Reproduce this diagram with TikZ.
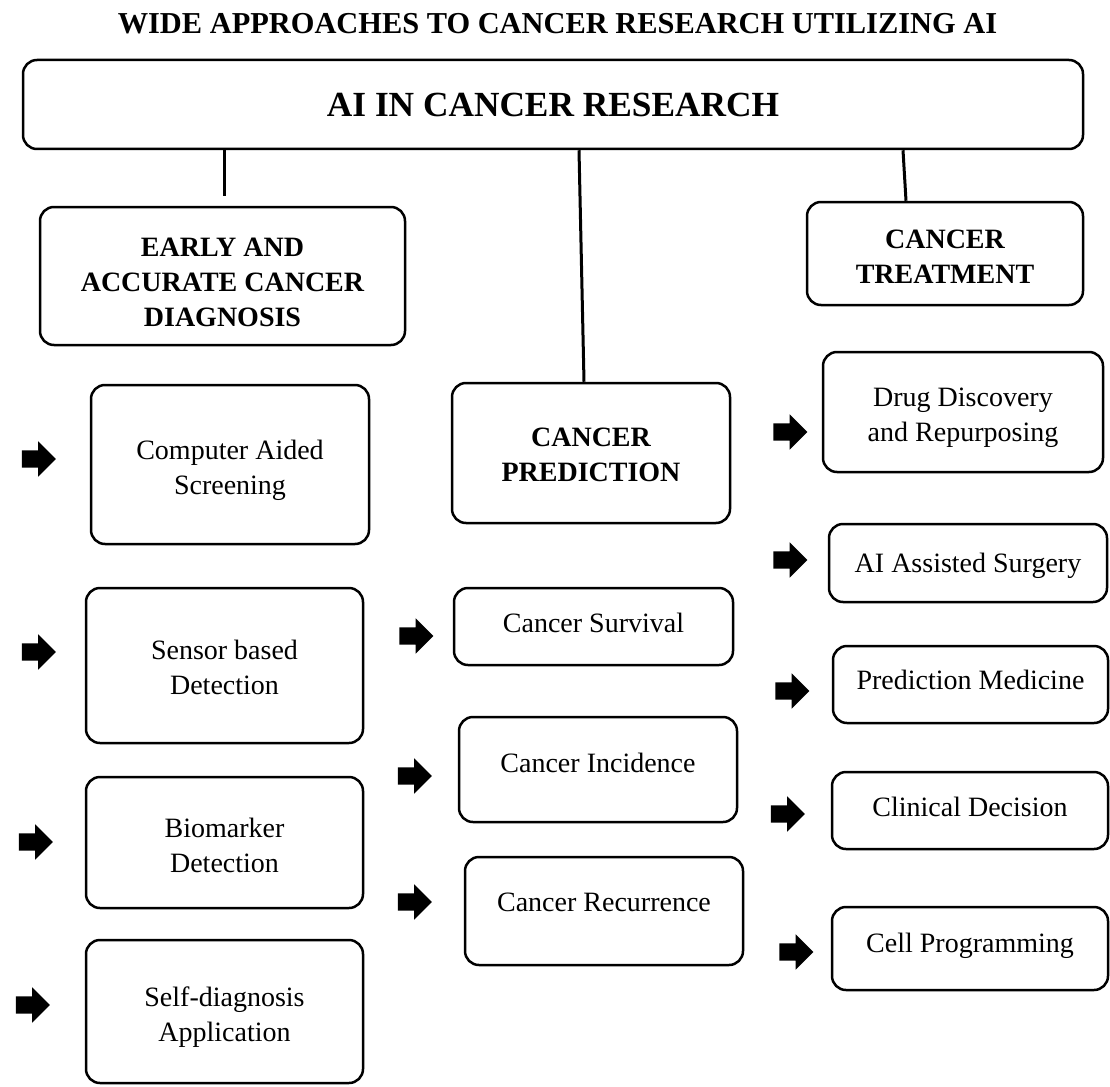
\documentclass[tikz,border=0pt]{standalone}
\usepackage{fontspec}
\setmainfont{Liberation Serif}
\usetikzlibrary{shapes.arrows}
\newcommand\padtop[1]{\rule{0pt}{#1pt}}
\begin{document}
\begin{tikzpicture}[x=1pt,y=-1pt,
box/.style={draw,line width=2.5pt,rounded corners=14pt,align=center,inner sep=0pt},
head/.style={box,font=\bfseries\fontsize{28}{35}\selectfont},
leaf/.style={box,font=\fontsize{28}{35}\selectfont},
sink/.style={text depth=#1pt},
link/.style={line width=3pt},
blk/.style={single arrow,fill=black,inner xsep=0pt,inner ysep=8.5pt,minimum height=34pt,single arrow head extend=9pt}]
\useasboundingbox (0,0) rectangle (1110,1086);
\node[font=\bfseries\fontsize{30.4}{36}\selectfont] (title) at (557.5,24) {WIDE APPROACHES TO CANCER RESEARCH UTILIZING AI};
\node[box,font=\bfseries\fontsize{35.3}{42}\selectfont,minimum width=1060pt,minimum height=89pt] (top) at (553,104.5) {AI IN CANCER RESEARCH};
\node[head,minimum width=365pt,minimum height=138pt] (early) at (222.5,276) {\padtop{31}EARLY AND\\ACCURATE CANCER\\DIAGNOSIS};
\node[head,minimum width=278pt,minimum height=140pt] (pred) at (591,453) {\padtop{22}CANCER\\PREDICTION};
\node[head,minimum width=276pt,minimum height=103pt] (treat) at (945,253.5) {\padtop{25}CANCER\\TREATMENT};
\node[leaf,minimum width=278pt,minimum height=159pt] (screen) at (230,464.5) {\padtop{32}Computer Aided\\Screening};
\node[leaf,minimum width=277pt,minimum height=155pt] (sensor) at (224.5,665.5) {\padtop{23}Sensor based\\Detection};
\node[leaf,minimum width=277pt,minimum height=131pt] (biomark) at (224.5,842.5) {\padtop{25}Biomarker\\Detection};
\node[leaf,minimum width=277pt,minimum height=143pt] (selfdiag) at (224.5,1011.5) {\padtop{31}Self-diagnosis\\Application};
\node[leaf,sink=7,minimum width=279pt,minimum height=77pt] (surv) at (593.5,626.5) {Cancer Survival};
\node[leaf,sink=13,minimum width=278pt,minimum height=105pt] (incid) at (598,769.5) {Cancer Incidence};
\node[leaf,sink=18,minimum width=278pt,minimum height=108pt] (recur) at (604,911) {Cancer Recurrence};
\node[leaf,minimum width=280pt,minimum height=120pt] (drug) at (963,412) {\padtop{30}Drug Discovery\\and Repurposing};
\node[leaf,sink=0,minimum width=278pt,minimum height=78pt] (surgery) at (968,563) {AI Assisted Surgery};
\node[leaf,sink=9,minimum width=275pt,minimum height=77pt] (predmed) at (970.5,684.5) {Prediction Medicine};
\node[leaf,sink=7,minimum width=276pt,minimum height=77pt] (clinic) at (970,810.5) {Clinical Decision};
\node[leaf,sink=11,minimum width=276pt,minimum height=83pt] (cellprog) at (970,948.5) {Cell Programming};
\node[blk] (aScreen) at (34.5,459) {};
\node[blk] (aSensor) at (34.5,652) {};
\node[blk] (aBiomark) at (31.5,842) {};
\node[blk] (aSelfdiag) at (28.5,1005) {};
\node[blk] (aSurv) at (412,636) {};
\node[blk] (aIncid) at (410.5,776) {};
\node[blk] (aRecur) at (410.5,902) {};
\node[blk] (aDrug) at (786,432) {};
\node[blk] (aSurgery) at (786,560) {};
\node[blk] (aPredmed) at (788,691) {};
\node[blk] (aClinic) at (783.5,814) {};
\node[blk] (aCellprog) at (792,952) {};
\coordinate (earlyend) at (224,196);
\draw[link] (top.south -| earlyend) -- (earlyend);
\draw[link] ([xshift=-12pt]top.south -| pred.north) -- ([xshift=-7pt]pred.north);
\draw[link] ([xshift=-42pt]top.south -| treat.north) -- ([xshift=-39pt]treat.north);
\end{tikzpicture}
\end{document}
